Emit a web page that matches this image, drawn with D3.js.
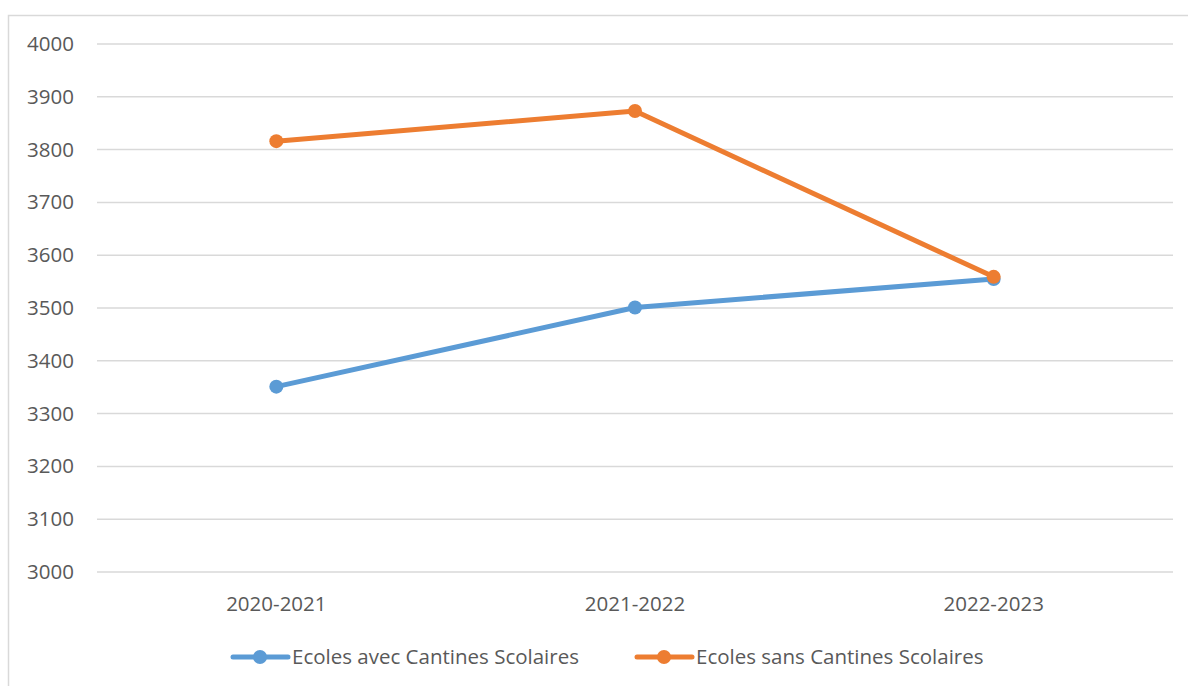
<!DOCTYPE html>
<html>
<head>
<meta charset="utf-8">
<script src="https://cdn.jsdelivr.net/npm/d3@7"></script>
<style>
  body { margin: 0; background: #fff; }
  svg text { font-family: "Open Sans", sans-serif; fill: #595959; }
</style>
</head>
<body>
<div id="chart"></div>
<script>
const categories = ["2020-2021", "2021-2022", "2022-2023"];
const seriesNames = ["Ecoles avec Cantines Scolaires", "Ecoles sans Cantines Scolaires"];
const avecCantines = [3351, 3501, 3555];
const sansCantines = [3816, 3873, 3559];
const yTicks = [3000, 3100, 3200, 3300, 3400, 3500, 3600, 3700, 3800, 3900, 4000];
const colors = ["#5B9BD5", "#ED7D31"];

const width = 1188, height = 686;
const plot = {left: 97, right: 1173, top: 44, bottom: 572};
const fontSize = 20.5;

let svg = d3.select("#chart").append("svg")
  .attr("width", width)
  .attr("height", height);

// chart border
svg.append("rect")
  .attr("x", 8.5).attr("y", 15.5)
  .attr("width", 1300).attr("height", 800)
  .attr("fill", "none")
  .attr("stroke", "#D9D9D9")
  .attr("stroke-width", 1.5);

let xScale = d3.scaleBand()
  .domain(categories)
  .range([plot.left, plot.right]);

let yScale = d3.scaleLinear()
  .domain([3000, 4000])
  .range([plot.bottom, plot.top]);

// grid lines
svg.append("g")
  .selectAll("line")
  .data(yTicks)
  .enter()
  .append("line")
  .attr("x1", plot.left).attr("x2", plot.right)
  .attr("y1", d => yScale(d)).attr("y2", d => yScale(d))
  .attr("stroke", "#D9D9D9")
  .attr("stroke-width", 1.5);

// y axis labels
let yAxis = svg.append("g")
  .attr("transform", "translate(" + (plot.left - 23) + ",0)")
  .call(d3.axisLeft(yScale).tickValues(yTicks).tickSize(0).tickFormat(d3.format("d")));
yAxis.select(".domain").remove();
yAxis.selectAll("text")
  .attr("font-size", fontSize)
  .attr("font-family", "Open Sans, sans-serif")
  .attr("fill", "#595959")
  .attr("x", 0);

// x axis labels
let xAxis = svg.append("g")
  .attr("transform", "translate(0," + (plot.bottom + 21) + ")")
  .call(d3.axisBottom(xScale).tickSize(0));
xAxis.select(".domain").remove();
xAxis.selectAll("text")
  .attr("font-size", fontSize)
  .attr("font-family", "Open Sans, sans-serif")
  .attr("fill", "#595959");

let line = d3.line()
  .x((d, i) => xScale(categories[i]) + xScale.bandwidth() / 2)
  .y(d => yScale(d));

[avecCantines, sansCantines].forEach(function(values, s) {
  let g = svg.append("g");
  g.append("path")
    .attr("d", line(values))
    .attr("fill", "none")
    .attr("stroke", colors[s])
    .attr("stroke-width", 5)
    .attr("stroke-linejoin", "round");
  g.selectAll("circle")
    .data(values)
    .enter()
    .append("circle")
    .attr("cx", (d, i) => xScale(categories[i]) + xScale.bandwidth() / 2)
    .attr("cy", d => yScale(d))
    .attr("r", 7)
    .attr("fill", colors[s]);
});

// legend
let legendItems = [{x: 233}, {x: 637}];
let legend = svg.append("g").attr("transform", "translate(0,657)");
legendItems.forEach(function(item, s) {
  let lg = legend.append("g").attr("transform", "translate(" + item.x + ",0)");
  lg.append("line")
    .attr("x1", 0).attr("x2", 55)
    .attr("y1", 0).attr("y2", 0)
    .attr("stroke", colors[s])
    .attr("stroke-width", 5)
    .attr("stroke-linecap", "round");
  lg.append("circle")
    .attr("cx", 27).attr("cy", 0).attr("r", 7)
    .attr("fill", colors[s]);
  lg.append("text")
    .attr("x", 59).attr("y", 0)
    .attr("dy", "0.35em")
    .attr("font-size", fontSize)
    .text(seriesNames[s]);
});
</script>
</body>
</html>
